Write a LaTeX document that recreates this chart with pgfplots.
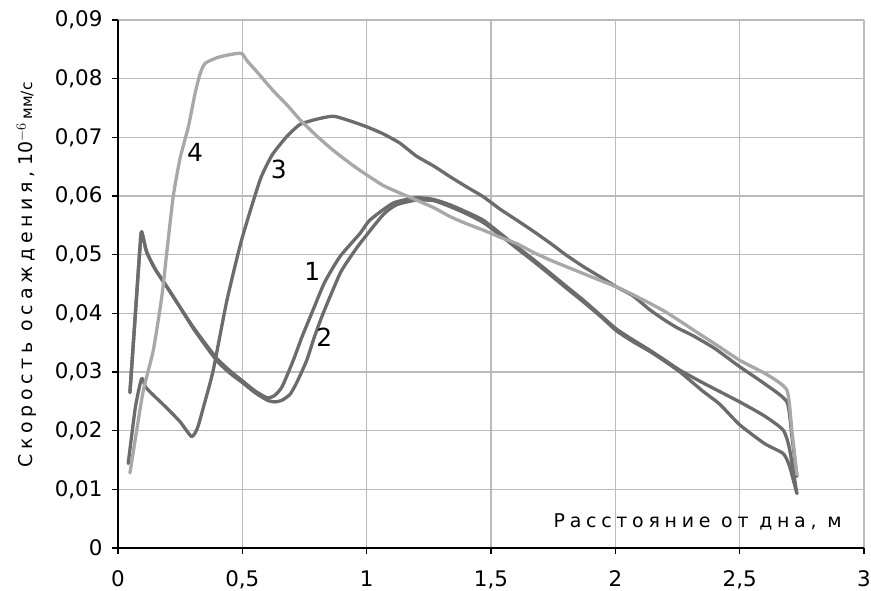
\documentclass[border=0pt]{standalone}
\usepackage{pgfplots}
\pgfplotsset{compat=1.18}
\usepackage{fontspec}
\setmainfont{DejaVu Sans}
\newfontfamily\spaced[LetterSpace=25]{DejaVu Sans}
\definecolor{dk}{HTML}{6C6C6C}
\definecolor{lt}{HTML}{A8A8A8}
\definecolor{gr}{HTML}{BBBBBB}
\begin{document}
\begin{tikzpicture}
\begin{axis}[
  scale only axis, width=746bp, height=528bp,
  xmin=0, xmax=3, ymin=0, ymax=0.09,
  axis x line*=bottom, axis y line*=left,
  axis line style={black, line width=1.3bp},
  xtick={0,0.5,1,1.5,2,2.5,3},
  ytick={0,0.01,0.02,0.03,0.04,0.05,0.06,0.07,0.08,0.09},
  scaled y ticks=false, scaled x ticks=false,
  /pgf/number format/.cd, fixed, precision=2, use comma, assume math mode=true,
  /pgfplots/.cd,
  tick align=outside, major tick length=6bp,
  tick style={black, line width=1.3bp},
  grid=major, major grid style={gr, line width=1.3bp},
  ticklabel style={font=\fontsize{21.5}{24}\selectfont},
  xticklabel style={yshift=-13bp},
  yticklabel style={xshift=-6bp},
  xlabel={\spaced Расстояние от дна, м},
  xlabel style={at={(axis description cs:0.777,0.05)}, anchor=center, font=\fontsize{19}{22}\selectfont},
  ylabel={{\spaced Скорость осаждения,} 10$^{-6}$\,{\fontsize{15.5}{18}\selectfont мм/с}},
  ylabel style={at={(axis description cs:-0.123,0.517)}, anchor=center, rotate=0, font=\fontsize{19}{22}\selectfont},
  every axis plot/.append style={line width=3.3bp, line join=round, line cap=round, no markers, smooth, tension=0.35},
]
% curve 1
\addplot[dk] coordinates {(0.048,0.0265)(0.07,0.040)(0.088,0.051)(0.095,0.0539)(0.115,0.0505)(0.15,0.0475)(0.2,0.0443)(0.25,0.0410)(0.3,0.0378)(0.35,0.0349)(0.4,0.0322)(0.45,0.0302)(0.5,0.0285)(0.55,0.0268)(0.6,0.0256)(0.63,0.0260)(0.66,0.0275)(0.705,0.0320)(0.74,0.0360)(0.779,0.0400)(0.83,0.0452)(0.893,0.0497)(0.973,0.0536)(1.013,0.0559)(1.107,0.0588)(1.2,0.0597)(1.27,0.0594)(1.335,0.0585)(1.4,0.0573)(1.468,0.0559)(1.535,0.0537)(1.603,0.0514)(1.67,0.0492)(1.737,0.0469)(1.8,0.0447)(1.87,0.0423)(1.94,0.0397)(2.005,0.0373)(2.07,0.0355)(2.139,0.0337)(2.2,0.0320)(2.26,0.0303)(2.35,0.0282)(2.5,0.0249)(2.6,0.0225)(2.675,0.0201)(2.70,0.0170)(2.73,0.0093)};
% curve 2
\addplot[dk] coordinates {(0.048,0.0265)(0.07,0.040)(0.088,0.051)(0.095,0.0539)(0.115,0.0505)(0.15,0.0475)(0.2,0.0443)(0.25,0.0410)(0.3,0.0376)(0.35,0.0346)(0.4,0.0318)(0.45,0.0298)(0.5,0.0282)(0.55,0.0265)(0.6,0.0252)(0.631,0.0249)(0.66,0.0252)(0.692,0.0262)(0.72,0.0283)(0.759,0.0320)(0.79,0.0360)(0.825,0.0400)(0.893,0.0468)(0.933,0.0495)(0.973,0.0519)(1.066,0.0568)(1.12,0.0585)(1.2,0.0593)(1.27,0.0592)(1.335,0.0582)(1.4,0.0570)(1.468,0.0555)(1.535,0.0534)(1.603,0.0511)(1.67,0.0489)(1.737,0.0466)(1.8,0.0444)(1.87,0.0420)(1.94,0.0395)(2.005,0.0370)(2.07,0.0352)(2.139,0.0335)(2.2,0.0318)(2.26,0.0300)(2.35,0.0268)(2.42,0.0245)(2.5,0.0210)(2.6,0.0178)(2.675,0.0161)(2.70,0.0140)(2.73,0.0093)};
% curve 3
\addplot[dk] coordinates {(0.041,0.0144)(0.07,0.0240)(0.095,0.0289)(0.11,0.0275)(0.129,0.0266)(0.2,0.0237)(0.25,0.0215)(0.296,0.0190)(0.32,0.0205)(0.35,0.0250)(0.383,0.0303)(0.437,0.0420)(0.497,0.0525)(0.571,0.0627)(0.62,0.0670)(0.678,0.0701)(0.732,0.0722)(0.8,0.0731)(0.866,0.0736)(0.933,0.0728)(1.0,0.0718)(1.066,0.0706)(1.134,0.0690)(1.2,0.0668)(1.27,0.0651)(1.335,0.0633)(1.4,0.0616)(1.468,0.0599)(1.535,0.0578)(1.603,0.0559)(1.67,0.0540)(1.737,0.0520)(1.8,0.0500)(1.87,0.0480)(1.94,0.0462)(2.005,0.0445)(2.07,0.0430)(2.139,0.0406)(2.2,0.0388)(2.25,0.0375)(2.312,0.0362)(2.4,0.0340)(2.5,0.0309)(2.6,0.0280)(2.69,0.0249)(2.71,0.0190)(2.73,0.0122)};
% curve 4
\addplot[lt] coordinates {(0.048,0.0128)(0.075,0.0200)(0.102,0.0269)(0.142,0.0337)(0.176,0.0428)(0.196,0.0503)(0.222,0.0599)(0.25,0.0665)(0.283,0.0718)(0.31,0.0775)(0.33,0.0808)(0.35,0.0826)(0.4,0.0836)(0.45,0.0841)(0.497,0.0843)(0.52,0.0830)(0.558,0.0812)(0.623,0.0780)(0.68,0.0755)(0.732,0.0730)(0.8,0.0702)(0.865,0.0678)(0.945,0.0652)(1.0,0.0636)(1.066,0.0618)(1.134,0.0605)(1.2,0.0593)(1.27,0.0580)(1.335,0.0565)(1.4,0.0553)(1.468,0.0542)(1.535,0.0530)(1.603,0.0519)(1.67,0.0504)(1.737,0.0491)(1.8,0.0480)(1.87,0.0468)(1.94,0.0456)(2.005,0.0445)(2.07,0.0432)(2.139,0.0417)(2.2,0.0403)(2.27,0.0384)(2.327,0.0368)(2.4,0.0348)(2.5,0.0320)(2.608,0.0296)(2.69,0.0269)(2.71,0.0200)(2.73,0.0125)};
\node[font=\fontsize{25}{28}\selectfont] at (axis cs:0.31,0.0675) {4};
\node[font=\fontsize{25}{28}\selectfont] at (axis cs:0.647,0.0645) {3};
\node[font=\fontsize{25}{28}\selectfont] at (axis cs:0.781,0.0471) {1};
\node[font=\fontsize{25}{28}\selectfont] at (axis cs:0.83,0.0359) {2};
\coordinate (ll) at (rel axis cs:0,0);
\coordinate (ur) at (rel axis cs:1,1);
\end{axis}
\pgfresetboundingbox
\path ([shift={(-118bp,-43bp)}]ll) rectangle ([shift={(7bp,20bp)}]ur);
\end{tikzpicture}
\end{document}
